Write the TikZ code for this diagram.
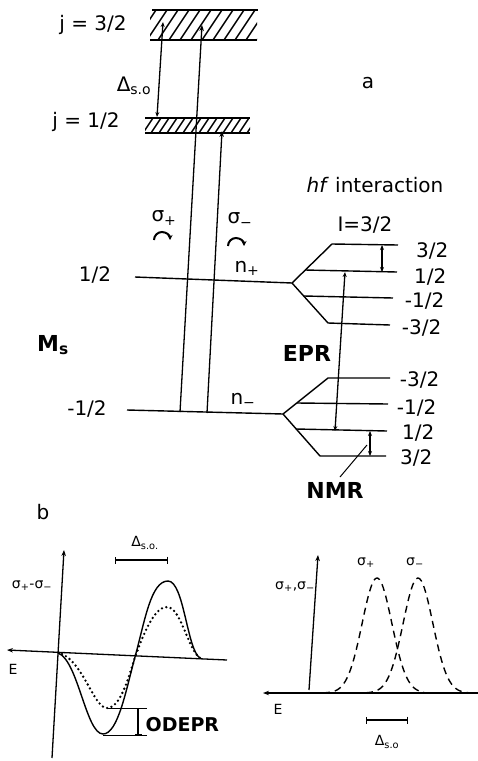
\documentclass[tikz,border=0pt]{standalone}
\usepackage{fontspec}
\setmainfont{DejaVu Sans}
\usetikzlibrary{arrows.meta}
\begin{document}
\begin{tikzpicture}[x=1pt,y=-1pt,line width=1.3pt,
  every node/.style={inner sep=0pt},
  lvl/.style={line width=1.4pt},
  hatch/.style={line width=1.5pt},
  uptip/.style={-{Stealth[length=6pt,width=4.5pt]}},
  dtip/.style={{Stealth[length=5pt,width=4pt]}-{Stealth[length=5pt,width=4pt]}},
  bartip/.style={{Bar[width=7pt]}-{Bar[width=7pt]}},
  lab/.style={font=\fontsize{20}{22}\selectfont},
  blab/.style={font=\fontsize{22}{24}\selectfont\bfseries},
  smalllab/.style={font=\fontsize{14}{16}\selectfont},
  circpol/.style={line width=2pt,-{Stealth[length=5pt,width=5pt]}},
  dashcurve/.style={line width=1.4pt,dash pattern=on 7pt off 5pt},
  dotcurve/.style={line width=2.6pt,line cap=round,dash pattern=on 0pt off 4.5pt}]
\useasboundingbox (0,0) rectangle (478,761);

% ---------- part a: top bands ----------
\begin{scope}
  \clip (150,10) rectangle (257,40);
  \foreach \i in {0,...,11} \draw[hatch] ({136+\i*11},40) -- ++(20,-30);
\end{scope}
\coordinate (ua) at (152,10); \coordinate (ub) at (258,10);
\coordinate (uc) at (150,40); \coordinate (ud) at (257,40);
\draw[lvl] (ua) -- (ub);
\draw[lvl] (uc) -- (ud);
\begin{scope}
  \clip (145,118) rectangle (250,133);
  \foreach \i in {0,...,14} \draw[hatch] ({135+\i*8},133) -- ++(10,-15);
\end{scope}
\coordinate (la) at (145,118); \coordinate (lb) at (250,118);
\coordinate (lc) at (145,133); \coordinate (ld) at (250,133);
\draw[lvl] (la) -- (lb);
\draw[lvl] (lc) -- (ld);

\node[lab] (j32) at (93,25) {j = 3/2};
\node[lab] (j12) at (86,122) {j = 1/2};
\node[lab] (alab) at (368,83) {a};
\node[lab] (hf) at (375,185) {\textit{hf} interaction};
\node[lab] (I32) at (365,225) {I=3/2};

% spin-orbit splitting arrow
\coordinate (so1) at (157,117);
\coordinate (so2) at (163,22);
\draw[dtip] (so1) -- (so2);
\node[lab] (dso) at (134,86) {Δ\textsubscript{s.o}};

% ---------- Zeeman levels ----------
\coordinate (m1) at (135,277);
\coordinate (P1) at (292,283);
\coordinate (m2) at (127,410);
\coordinate (P2) at (283,414);
\draw[lvl] (m1) -- (P1);
\draw[lvl] (m2) -- (P2);
\node[lab] (lp) at (95,275) {1/2};
\node[lab] (lm) at (87,409) {-1/2};
\node[blab] (Ms) at (53,345) {M\textsubscript{s}};
\node[lab] (np) at (247,268) {n\textsubscript{+}};
\node[lab] (nm) at (243,400) {n\textsubscript{−}};

% optical transitions
\coordinate (sp1) at (180,412); \coordinate (sp2) at (202,25);
\coordinate (sm1) at (207,413); \coordinate (sm2) at (222,131);
\draw[uptip] (sp1) -- (sp2);
\draw[uptip] (sm1) -- (sm2);
\node[lab] (sigp) at (164,218) {σ\textsubscript{+}};
\node[lab] (sigm) at (240,220) {σ\textsubscript{−}};
\draw[circpol] (154,240) arc[start angle=180,end angle=360,radius=8];
\draw[circpol] (228,246) arc[start angle=180,end angle=360,radius=8];

% hyperfine splitting, upper
\coordinate (u32a) at (332,244); \coordinate (u32b) at (398,245);
\coordinate (u12a) at (305,270); \coordinate (u12b) at (397,272);
\coordinate (um12a) at (304,296); \coordinate (um12b) at (393,298);
\coordinate (um32a) at (328,323); \coordinate (um32b) at (390,325);
\draw[lvl] (P1) -- (u32a) -- (u32b);
\draw[lvl] (u12a) -- (u12b);
\draw[lvl] (um12a) -- (um12b);
\draw[lvl] (P1) -- (um32a) -- (um32b);
\node[lab,anchor=east] (t1) at (449,251) {3/2};
\node[lab,anchor=east] (t2) at (447,277) {1/2};
\node[lab,anchor=east] (t3) at (445,301) {-1/2};
\node[lab,anchor=east] (t4) at (442,328) {-3/2};
\coordinate (hfa) at (382,245); \coordinate (hfb) at (382,272);
\draw[dtip] (hfa) -- (hfb);

% hyperfine splitting, lower
\coordinate (d32a) at (328,378); \coordinate (d32b) at (390,378);
\coordinate (d12a) at (297,403); \coordinate (d12b) at (388,404);
\coordinate (dp12a) at (296,429); \coordinate (dp12b) at (387,431);
\coordinate (dp32a) at (320,456); \coordinate (dp32b) at (386,456);
\draw[lvl] (P2) -- (d32a) -- (d32b);
\draw[lvl] (d12a) -- (d12b);
\draw[lvl] (dp12a) -- (dp12b);
\draw[lvl] (P2) -- (dp32a) -- (dp32b);
\node[lab,anchor=east] (b1) at (440,380) {-3/2};
\node[lab,anchor=east] (b2) at (437,408) {-1/2};
\node[lab,anchor=east] (b3) at (435,433) {1/2};
\node[lab,anchor=east] (b4) at (433,458) {3/2};

% EPR and NMR
\coordinate (ep1) at (345,272); \coordinate (ep2) at (335,431);
\draw[dtip] (ep1) -- (ep2);
\node[blab] (EPR) at (307,353) {EPR};
\coordinate (nm1) at (370,431); \coordinate (nm2) at (370,456);
\draw[dtip] (nm1) -- (nm2);
\node[blab] (NMR) at (335,490) {NMR};
\coordinate (pt1) at (340,477); \coordinate (pt2) at (367,445);
\draw[line width=1pt] (pt1) -- (pt2);

% ---------- part b, left plot ----------
\node[lab] (blab) at (43,512) {b};
\coordinate (ly0) at (52,758); \coordinate (ly1) at (64,550);
\draw[uptip] (ly0) -- (ly1);
\coordinate (lx0) at (227,660); \coordinate (lx1) at (7,650);
\draw[uptip] (lx0) -- (lx1);
\node[smalllab] (Eleft) at (13,669) {E};
\node[smalllab] (sdiff) at (32,586) {σ\textsubscript{+}-σ\textsubscript{−}};
\coordinate (dl1) at (115,560); \coordinate (dl2) at (168,560);
\draw[bartip] (dl1) -- (dl2);
\node[smalllab] (dsoL) at (145,543) {Δ\textsubscript{s.o.}};
% solid curve
\draw[line width=1.4pt] (58,653) .. controls (78,660) and (86,734) .. (103,734)
  .. controls (118,734) and (126,690) .. (135,657)
  .. controls (145,620) and (151,581) .. (168,581)
  .. controls (184,581) and (187,650) .. (200,658);
% dotted curve
\draw[dotcurve] (62,654) .. controls (84,664) and (94,708) .. (107,708)
  .. controls (120,708) and (128,680) .. (135,657)
  .. controls (145,630) and (155,607) .. (167,607)
  .. controls (181,607) and (188,650) .. (200,658);
\coordinate (od1) at (107,708); \coordinate (od2) at (147,708);
\coordinate (od3) at (103,735); \coordinate (od4) at (147,735);
\draw[line width=1pt] (od1) -- (od2);
\draw[line width=1pt] (od3) -- (od4);
\coordinate (oda) at (138,708); \coordinate (odb) at (138,735);
\draw[bartip] (oda) -- (odb);
\node[font=\fontsize{19}{21}\selectfont\bfseries,anchor=west] (ODEPR) at (145,725) {ODEPR};

% ---------- part b, right plot ----------
\coordinate (ry0) at (309,690); \coordinate (ry1) at (318,555);
\draw[uptip] (ry0) -- (ry1);
\coordinate (rx0) at (478,693); \coordinate (rx1) at (263,693);
\draw[uptip] (rx0) -- (rx1);
\node[smalllab] (Eright) at (278,709) {E};
\node[smalllab] (ssum) at (295,587) {σ\textsubscript{+},σ\textsubscript{−}};
\draw[dashcurve] plot[domain=323:424,samples=60,smooth] (\x,{693-115*exp(-((\x-377)/21)^2)});
\draw[dashcurve] plot[domain=366:468,samples=60,smooth] (\x,{693-115*exp(-((\x-418)/21)^2)});
\node[smalllab] (sp) at (366,563) {σ\textsubscript{+}};
\node[smalllab] (sm) at (415,563) {σ\textsubscript{−}};
\coordinate (dr1) at (366,720); \coordinate (dr2) at (408,720);
\draw[bartip] (dr1) -- (dr2);
\node[smalllab] (dsoR) at (387,742) {Δ\textsubscript{s.o}};
\end{tikzpicture}
\end{document}
